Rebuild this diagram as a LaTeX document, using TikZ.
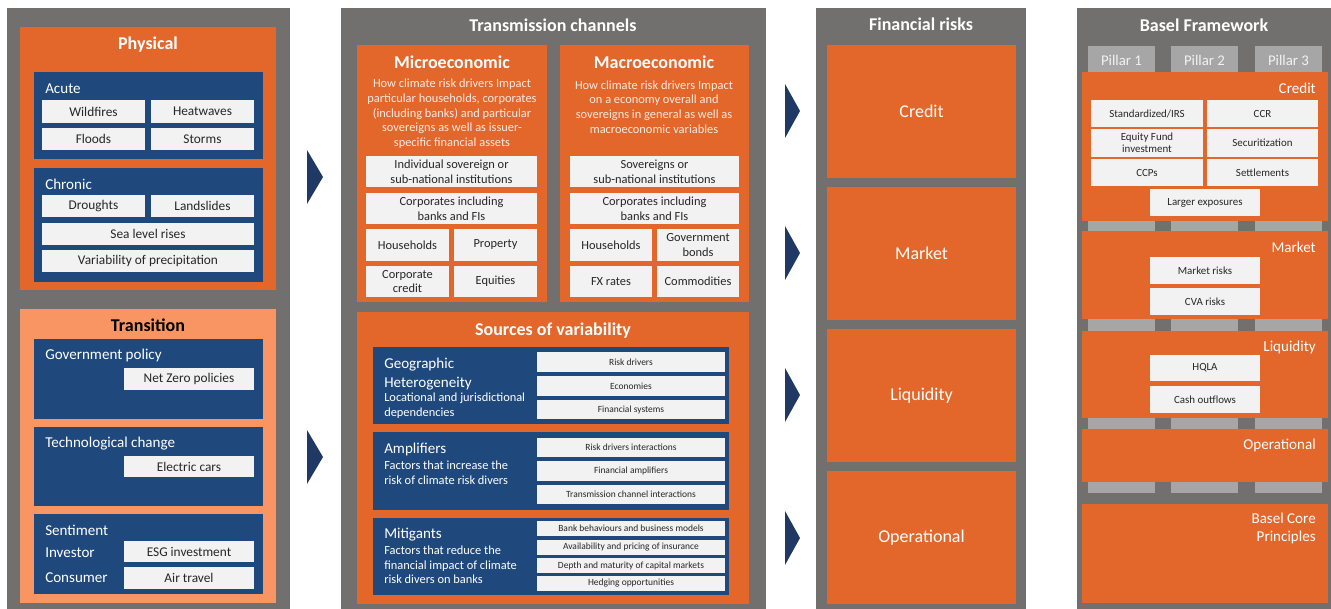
\documentclass[tikz,border=0pt]{standalone}
\usepackage{fontspec}
\setmainfont{Carlito}
\usepackage{tikz}
\definecolor{colgray}{HTML}{72706E}
\definecolor{rorange}{HTML}{E3672B}
\definecolor{torange}{HTML}{F89563}
\definecolor{navy}{HTML}{1F497D}
\definecolor{chevron}{HTML}{1F3864}
\definecolor{lightbox}{HTML}{F2F2F2}
\definecolor{pillargray}{HTML}{A6A6A6}
\definecolor{boxtxt}{HTML}{262626}
\definecolor{desctxt}{HTML}{FCEBE1}
\tikzset{wh/.style 2 args={minimum width=#1*0.75pt, minimum height=#2*0.75pt}}
\tikzstyle{area} = [anchor=north west, inner sep=0pt, outer sep=0pt]
\tikzstyle{colbg} = [area, fill=colgray]
\tikzstyle{panel} = [area, fill=rorange]
\tikzstyle{navybox} = [area, fill=navy]
\tikzstyle{boxcell} = [area, fill=lightbox, text=boxtxt, align=center]
\tikzstyle{hazard} = [boxcell, font={\fontsize{10}{12}\selectfont}]
\tikzstyle{chancell} = [boxcell, font={\fontsize{9.3}{11}\selectfont}]
\tikzstyle{srccell} = [boxcell, font={\fontsize{7.1}{8.5}\selectfont}]
\tikzstyle{baselcell} = [boxcell, font={\fontsize{8.2}{9}\selectfont}]
\tikzstyle{titletext} = [inner sep=0pt, text=white, font={\bfseries\fontsize{13.5}{16}\selectfont}]
\tikzstyle{heading} = [anchor=west, inner sep=0pt, align=left, text=white, font={\fontsize{11.3}{14.3}\selectfont}]
\tikzstyle{desctext} = [inner sep=0pt, align=center, text=desctxt, font={\fontsize{9.3}{11}\selectfont}]
\tikzstyle{srcdesc} = [anchor=west, inner sep=0pt, align=left, text=white, font={\fontsize{9.3}{11}\selectfont}]
\tikzstyle{riskbox} = [panel, text=white, font={\fontsize{13.5}{16}\selectfont}]
\tikzstyle{pillarbar} = [area, fill=pillargray]
\tikzstyle{pillarlab} = [inner sep=0pt, text=lightbox, font={\fontsize{11.1}{13}\selectfont}]
\tikzstyle{blabel} = [anchor=east, inner sep=0pt, align=right, text=white, font={\fontsize{11.3}{13.5}\selectfont}]
\tikzstyle{chev} = [fill=chevron]

\begin{document}
\begin{tikzpicture}[x=0.75pt, y=-0.75pt]
\useasboundingbox (0,0) rectangle (1331,609);

% risk drivers
\node[colbg, wh={283}{601}] (drivercol) at (7,8) {};
\node[panel, wh={256}{263}] (physical) at (20,27) {};
\node[titletext] (physicaltitle) at (148,45) {Physical};
\node[navybox, wh={229}{87}] (acute) at (34,72) {};
\node[heading] (acutelab) at (45,89) {Acute};
\node[hazard, wh={103}{23}] (wildfires) at (42,100) {Wildfires};
\node[hazard, wh={103}{23}] (heatwaves) at (151,100) {Heatwaves};
\node[hazard, wh={103}{22}] (floods) at (42,128) {Floods};
\node[hazard, wh={103}{22}] (storms) at (151,128) {Storms};
\node[navybox, wh={229}{114}] (chronic) at (34,168) {};
\node[heading] (chroniclab) at (45,184) {Chronic};
\node[hazard, wh={103}{22}] (droughts) at (42,195) {Droughts};
\node[hazard, wh={103}{22}] (landslides) at (151,195) {Landslides};
\node[hazard, wh={212}{22}] (sealevel) at (42,223) {Sea level rises};
\node[hazard, wh={212}{22}] (precip) at (42,250) {Variability of precipitation};

\node[area, fill=torange, wh={256}{294}] (transition) at (20,309) {};
\node[titletext, text=black] (transitiontitle) at (148,325) {Transition};
\node[navybox, wh={229}{80}] (policy) at (34,339) {};
\node[heading] (policylab) at (45,355) {Government policy};
\node[hazard, wh={130}{22}] (netzero) at (124,368) {Net Zero policies};
\node[navybox, wh={229}{79}] (tech) at (34,427) {};
\node[heading] (techlab) at (45,444) {Technological change};
\node[hazard, wh={130}{21}] (ecars) at (124,456) {Electric cars};
\node[navybox, wh={229}{80}] (sentiment) at (34,514) {};
\node[heading] (sentimentlab) at (45,530) {Sentiment};
\node[heading] (investor) at (45,553) {Investor};
\node[hazard, wh={130}{21}] (esg) at (124,541) {ESG investment};
\node[heading] (consumer) at (45,578) {Consumer};
\node[hazard, wh={130}{22}] (airtravel) at (124,567) {Air travel};

\fill[chev] (307,150) -- (323,177) -- (307,204) -- cycle;
\fill[chev] (307,430) -- (323,457) -- (307,484) -- cycle;

% transmission channels
\node[colbg, wh={425}{601}] (channelcol) at (341,8) {};
\node[titletext] (channeltitle) at (553,25) {Transmission channels};
\node[panel, wh={190}{257}] (micro) at (357,45) {};
\node[titletext] (microtitle) at (452,62) {Microeconomic};
\node[desctext] (microdesc) at (452,114) {How climate risk drivers Impact\\particular households, corporates\\(including banks) and particular\\sovereigns as well as issuer-\\specific financial assets};
\node[chancell, wh={171}{31}] (indsov) at (366,156) {Individual sovereign or\\sub-national institutions};
\node[chancell, wh={171}{31}] (microcorp) at (366,193) {Corporates including\\banks and FIs};
\node[chancell, wh={83}{32}] (microhh) at (366,229) {Households};
\node[chancell, wh={83}{32}] (property) at (454,229) {Property};
\node[chancell, wh={83}{31}] (corpcredit) at (366,266) {Corporate\\credit};
\node[chancell, wh={83}{31}] (equities) at (454,266) {Equities};

\node[panel, wh={189}{257}] (macro) at (560,45) {};
\node[titletext] (macrotitle) at (654,62) {Macroeconomic};
\node[desctext] (macrodesc) at (654,107) {How climate risk drivers Impact\\on a economy overall and\\sovereigns in general as well as\\macroeconomic variables};
\node[chancell, wh={169}{31}] (sovereigns) at (570,156) {Sovereigns or\\sub-national institutions};
\node[chancell, wh={169}{31}] (macrocorp) at (570,193) {Corporates including\\banks and FIs};
\node[chancell, wh={82}{32}] (macrohh) at (570,229) {Households};
\node[chancell, wh={82}{32}] (govbonds) at (657,229) {Government\\bonds};
\node[chancell, wh={82}{31}] (fxrates) at (570,266) {FX rates};
\node[chancell, wh={82}{31}] (commodities) at (657,266) {Commodities};

\node[panel, wh={392}{292}] (sources) at (357,312) {};
\node[titletext] (sourcestitle) at (553,331) {Sources of variability};
\node[navybox, wh={356}{77}] (geo) at (373,347) {};
\node[heading] (geohead) at (384,374) {Geographic\\Heterogeneity};
\node[srcdesc] (geodesc) at (384,406) {Locational and jurisdictional\\dependencies};
\node[srccell, wh={188}{20}] (riskdrivers) at (537,352) {Risk drivers};
\node[srccell, wh={188}{20}] (economies) at (537,376) {Economies};
\node[srccell, wh={188}{19}] (finsystems) at (537,400) {Financial systems};
\node[navybox, wh={356}{78}] (amp) at (373,432) {};
\node[heading] (amphead) at (384,449) {Amplifiers};
\node[srcdesc] (ampdesc) at (384,473) {Factors that increase the\\risk of climate risk divers};
\node[srccell, wh={188}{19}] (driverinter) at (537,438) {Risk drivers interactions};
\node[srccell, wh={188}{20}] (finamp) at (537,461) {Financial amplifiers};
\node[srccell, wh={188}{19}] (chaninter) at (537,485) {Transmission channel interactions};
\node[navybox, wh={356}{77}] (mit) at (373,518) {};
\node[heading] (mithead) at (384,535) {Mitigants};
\node[srcdesc] (mitdesc) at (384,565) {Factors that reduce the\\financial impact of climate\\risk divers on banks};
\node[srccell, wh={188}{15}] (behaviour) at (537,521) {Bank behaviours and business models};
\node[srccell, wh={188}{15}] (insurance) at (537,540) {Availability and pricing of insurance};
\node[srccell, wh={188}{15}] (capmarkets) at (537,558) {Depth and maturity of capital markets};
\node[srccell, wh={188}{15}] (hedging) at (537,576) {Hedging opportunities};

\foreach \yc in {111,253,395,538}
  \fill[chev] (785,\yc-27) -- (800,\yc) -- (785,\yc+27) -- cycle;

% financial risks
\node[colbg, wh={210}{601}] (riskcol) at (816,8) {};
\node[titletext] (risktitle) at (921,24) {Financial risks};
\node[riskbox, wh={189}{133}] (credit) at (827,45) {Credit};
\node[riskbox, wh={189}{133}] (market) at (827,187) {Market};
\node[riskbox, wh={189}{133}] (liquidity) at (827,329) {Liquidity};
\node[riskbox, wh={189}{133}] (operational) at (827,471) {Operational};

% Basel framework
\node[colbg, wh={254}{601}] (baselcol) at (1077,8) {};
\node[titletext] (baseltitle) at (1204,25) {Basel Framework};
\foreach \n/\xx in {1/1088, 2/1171, 3/1255} {
  \node[pillarbar, wh={67}{447}] (pillar\n) at (\xx,46) {};
  \node[pillarlab] (pillarlab\n) at (\xx+33.5,60) {Pillar \n};
}
\node[panel, wh={246}{149}] (bcredit) at (1082,72) {};
\node[blabel] (bcreditlab) at (1316,88) {Credit};
\node[baselcell, wh={112}{27}] (standard) at (1091,100) {Standardized/IRS};
\node[baselcell, wh={111}{27}] (ccr) at (1207,100) {CCR};
\node[baselcell, wh={112}{28}] (equityfund) at (1091,129) {Equity Fund\\investment};
\node[baselcell, wh={111}{28}] (securitization) at (1207,129) {Securitization};
\node[baselcell, wh={112}{27}] (ccps) at (1091,159) {CCPs};
\node[baselcell, wh={111}{27}] (settlements) at (1207,159) {Settlements};
\node[baselcell, wh={110}{27}] (largeexp) at (1150,189) {Larger exposures};
\node[panel, wh={246}{88}] (bmarket) at (1082,231) {};
\node[blabel] (bmarketlab) at (1316,247) {Market};
\node[baselcell, wh={110}{27}] (marketrisks) at (1150,257) {Market risks};
\node[baselcell, wh={110}{27}] (cvarisks) at (1150,288) {CVA risks};
\node[panel, wh={246}{87}] (bliquidity) at (1082,331) {};
\node[blabel] (bliquiditylab) at (1316,347) {Liquidity};
\node[baselcell, wh={110}{26}] (hqla) at (1150,355) {HQLA};
\node[baselcell, wh={110}{27}] (cashout) at (1150,386) {Cash outflows};
\node[panel, wh={246}{53}] (boperational) at (1082,429) {};
\node[blabel] (boperationallab) at (1316,445) {Operational};
\node[panel, wh={246}{99}] (coreprinc) at (1082,504) {};
\node[blabel] (coreprinclab) at (1316,528) {Basel Core\\Principles};
\end{tikzpicture}
\end{document}
